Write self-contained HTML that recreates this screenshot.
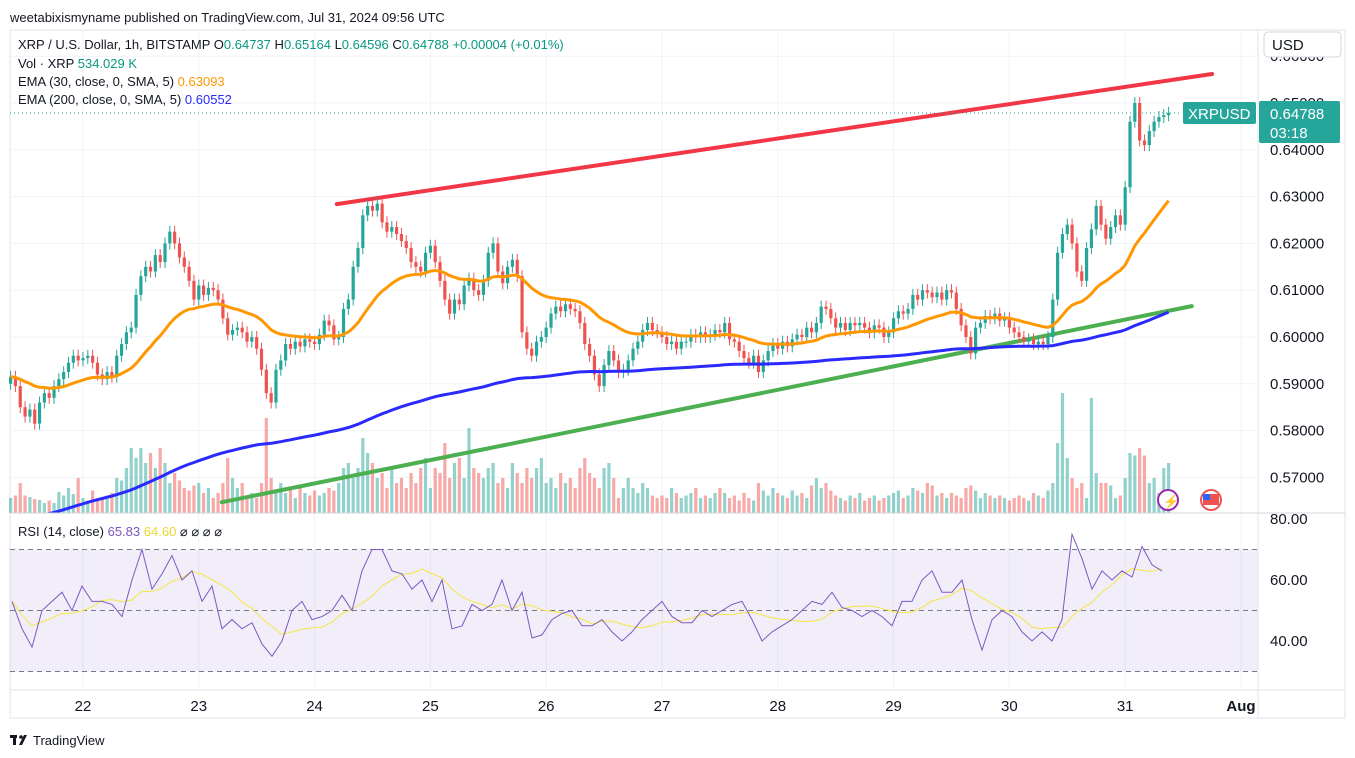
<!DOCTYPE html>
<html><head><meta charset="utf-8">
<style>
body{margin:0;background:#fff;font-family:"Liberation Sans",sans-serif;}
svg{display:block}
text{font-family:"Liberation Sans",sans-serif;}
</style></head>
<body>
<svg id="chart" width="1355" height="758">
<defs>
<clipPath id="mainclip"><rect x="10" y="30" width="1248" height="483"/></clipPath>
<clipPath id="rsiclip"><rect x="10" y="513" width="1248" height="177"/></clipPath>
</defs>
<text x="10" y="22" font-size="13" fill="#131722">weetabixismyname published on TradingView.com, Jul 31, 2024 09:56 UTC</text>
<rect x="10" y="30" width="1335" height="688" fill="none" stroke="#e0e3eb"/>
<g id="grid"></g>
<g id="rsipane" clip-path="url(#rsiclip)"></g>
<g id="vol"></g>
<g id="lines"></g>
<g id="candles"></g>
<g id="emas" clip-path="url(#mainclip)"></g>
<g id="axes"></g>
<line x1="10" y1="513" x2="1345" y2="513" stroke="#d1d4dc"/>
<line x1="1258" y1="30" x2="1258" y2="718" stroke="#e0e3eb"/>
<line x1="10" y1="690" x2="1345" y2="690" stroke="#e0e3eb"/>
<g font-size="13">
<text x="18" y="49" fill="#131722">XRP / U.S. Dollar, 1h, BITSTAMP <tspan fill="#131722">O</tspan><tspan fill="#089981">0.64737</tspan> <tspan fill="#131722">H</tspan><tspan fill="#089981">0.65164</tspan> <tspan fill="#131722">L</tspan><tspan fill="#089981">0.64596</tspan> <tspan fill="#131722">C</tspan><tspan fill="#089981">0.64788</tspan> <tspan fill="#089981">+0.00004 (+0.01%)</tspan></text>
<text x="18" y="68" fill="#131722">Vol · XRP <tspan fill="#089981">534.029 K</tspan></text>
<text x="18" y="86" fill="#131722">EMA (30, close, 0, SMA, 5) <tspan fill="#ff9800">0.63093</tspan></text>
<text x="18" y="104" fill="#131722">EMA (200, close, 0, SMA, 5) <tspan fill="#2a2aff">0.60552</tspan></text>
<text x="18" y="536" fill="#131722">RSI (14, close) <tspan fill="#7e57c2">65.83</tspan> <tspan fill="#e8d830">64.60</tspan> ⌀ ⌀ ⌀ ⌀</text>
</g>
<rect x="1264" y="32" width="77" height="25" rx="4" fill="#fff" stroke="#d1d4dc"/>
<text x="1272" y="50" font-size="15" fill="#131722">USD</text>
<line x1="10" y1="113" x2="1182" y2="113" stroke="#26a69a" stroke-dasharray="1,3"/>
<rect x="1183" y="102" width="73" height="22" rx="2" fill="#26a69a"/>
<text x="1188" y="119" font-size="15" fill="#fff">XRPUSD</text>
<rect x="1259" y="101" width="81" height="42" rx="2" fill="#26a69a"/>
<text x="1270" y="119" font-size="15" fill="#fff">0.64788</text>
<text x="1270" y="138" font-size="15" fill="#fff">03:18</text>
<circle cx="1168" cy="500" r="10" fill="#fff" stroke="#9c27b0" stroke-width="2"/>
<text x="1163" y="506" font-size="13" fill="#9c27b0">⚡</text>
<circle cx="1211" cy="500" r="10" fill="#fff" stroke="#ef5350" stroke-width="2"/>
<rect x="1203" y="494" width="16" height="11" fill="#ef5350"/>
<rect x="1203" y="494" width="7" height="6" fill="#2962ff"/>
<g>
<rect x="10" y="735" width="7" height="3" fill="#131722"/><rect x="13" y="735" width="3" height="10" fill="#131722"/>
<circle cx="21" cy="737" r="1.8" fill="#131722"/><path d="M19 745 L24 735 L27 735 L22 745 Z" fill="#131722"/>
<text x="33" y="745" font-size="13" fill="#131722">TradingView</text>
</g>
</svg>
<script>
const closes=[0.5915,0.5895,0.5850,0.5830,0.5845,0.5815,0.5860,0.5880,0.5870,0.5895,0.5910,0.5925,0.5945,0.5960,0.5950,
0.5955,0.5960,0.5945,0.5920,0.5910,0.5925,0.5915,0.5960,0.5985,0.6010,0.6020,0.6090,0.6130,0.6150,0.6140,0.6175,0.6160,0.6200,0.6225,0.6200,0.6170,0.6150,0.6120,0.6080,
0.6110,0.6090,0.6105,0.6100,0.6080,0.6040,0.6005,0.6015,0.6020,0.6010,0.5990,0.6000,0.5975,0.5930,0.5880,0.5860,0.5930,0.5950,0.5985,0.5975,0.5990,0.5980,0.5995,0.5990,
0.5985,0.6005,0.6035,0.6025,0.5995,0.6000,0.6060,0.6080,0.6150,0.6190,0.6260,0.6280,0.6270,0.6285,0.6245,0.6225,0.6235,0.6220,0.6205,0.6190,0.6160,0.6150,0.6140,0.6180,
0.6195,0.6160,0.6120,0.6080,0.6050,0.6080,0.6070,0.6110,0.6125,0.6100,0.6090,0.6120,0.6180,0.6200,0.6140,0.6115,0.6150,0.6165,0.6130,0.6010,0.5975,0.5960,0.5990,0.6000,
0.6020,0.6050,0.6065,0.6055,0.6070,0.6060,0.6055,0.6030,0.5985,0.5960,0.5920,0.5895,0.5940,0.5970,0.5950,0.5925,0.5930,0.5950,0.5975,0.5990,0.6015,0.6030,0.6015,0.6010,
0.6000,0.5985,0.5990,0.5975,0.5990,0.5990,0.6005,0.6000,0.6010,0.6000,0.6005,0.6015,0.6010,0.6030,0.5995,0.5990,0.5970,0.5955,0.5945,0.5960,0.5925,0.5950,0.5970,0.5985,
0.5975,0.5990,0.5980,0.5995,0.6005,0.6000,0.6020,0.6010,0.6030,0.6065,0.6060,0.6040,0.6020,0.6030,0.6015,0.6030,0.6025,0.6030,0.6020,0.6010,0.6025,0.6020,0.6000,0.6010,
0.6040,0.6055,0.6050,0.6060,0.6090,0.6080,0.6100,0.6095,0.6085,0.6095,0.6080,0.6100,0.6095,0.6060,0.6025,0.6000,0.5965,0.6020,0.6030,0.6045,0.6040,0.6050,0.6035,0.6040,
0.6020,0.6010,0.6000,0.5990,0.5995,0.5985,0.5990,0.5985,0.6000,0.6080,0.6180,0.6220,0.6240,0.6200,0.6140,0.6120,0.6190,0.6230,0.6280,0.6240,0.6210,0.6235,0.6260,0.6240,
0.6320,0.6460,0.6500,0.6420,0.6410,0.6440,0.6460,0.6470,0.6474,0.6479];
const volumes=[300,350,600,350,320,280,260,200,250,200,420,350,500,380,700,
300,250,450,300,280,350,400,700,650,900,1300,1100,1300,1000,1200,900,1300,1000,600,800,650,500,450,550,
600,400,500,300,400,600,1100,700,500,600,350,400,300,600,1900,700,450,600,400,500,300,500,400,350,
450,350,400,500,450,600,900,1000,700,900,1500,1200,1000,700,800,500,900,600,700,500,800,600,900,1100,
500,900,800,1400,700,1000,1100,700,1700,900,800,700,900,1000,600,700,500,1000,800,600,900,700,900,1100,
600,700,500,800,600,700,500,900,1100,800,700,500,900,1000,700,300,500,700,500,400,600,500,350,300,
350,300,500,400,300,350,400,500,300,350,300,400,500,400,300,350,250,400,300,250,600,450,350,500,
400,350,300,450,350,400,300,550,700,500,600,450,350,300,250,350,300,400,250,300,350,250,300,350,
400,450,300,350,500,450,400,600,550,350,400,300,400,350,300,500,550,450,300,400,350,300,350,300,
250,300,350,300,250,400,350,300,450,600,1400,2400,1100,700,500,600,300,2300,800,600,600,550,300,350,
700,1200,1150,1300,1150,600,700,400,900,1000];
// RSI values, one sample per ~2.07 candles (10px)
const rsiValues=[53,44,38,50,53,56,50,58,53,53,52,48,60,70,57,62,68,60,63,53,58,44,47,44,46,39,35,40,50,53,47,48,50,55,50,63,70,70,63,62,57,60,53,60,44,45,52,50,52,60,50,56,41,42,47,49,50,45,45,47,43,40,43,47,50,53,48,46,46,50,48,50,52,53,47,40,43,45,47,50,53,52,56,51,50,48,50,48,45,53,53,60,63,56,56,60,47,37,47,50,48,43,40,43,40,47,75,67,57,63,60,63,61,71,65,63];
const firstOpen=0.5900;
const ema200Seed=0.5600;
const priceTicks=[0.66,0.65,0.64,0.63,0.62,0.61,0.60,0.59,0.58,0.57];
const rsiTicks=[80,60,40];
const dayLabels=["22","23","24","25","26","27","28","29","30","31","Aug"];
const redLine=[[67.6,0.6284],[249,0.6562]];
const greenLine=[[43.8,0.5647],[244.8,0.6066]];

const NS="http://www.w3.org/2000/svg";
const X=i=>10.6+4.825*i;
const Y=p=>337-(p-0.60)*4680;
const RY=r=>580-(r-60)*3.05;
const VY=v=>513-v*0.05;
function mk(parent,tag,attrs){const e=document.createElementNS(NS,tag);for(const k in attrs)e.setAttribute(k,attrs[k]);document.getElementById(parent).appendChild(e);return e;}

dayLabels.forEach((d,k)=>{const x=X(15+24*k);
 const g=mk('grid','line',{x1:x,y1:30,x2:x,y2:690,stroke:'#f0f3fa'});
 
 
 const t=mk('axes','text',{x:x,y:711,'font-size':15,'text-anchor':'middle',fill:'#131722','font-weight':d==='Aug'?'bold':'normal'});
 t.textContent=d;
 
 
});
priceTicks.forEach(p=>{const y=Y(p);
 if(y>40){const g=mk('grid','line',{x1:10,y1:y,x2:1258,y2:y,stroke:'#f0f3fa'});
 
 }
 const t=mk('axes','text',{x:1270,y:y+5,'font-size':15,fill:'#131722'});
 t.textContent=p.toFixed(5);
 
 
});
{const b=mk('rsipane','rect',{x:10,y:RY(70),width:1248,height:RY(30)-RY(70),fill:'rgba(126,87,194,0.1)'});


[70,50,30].forEach(l=>{const d=mk('rsipane','line',{x1:10,x2:1258,y1:RY(l),y2:RY(l),stroke:'#787b86','stroke-dasharray':'5,4'});
 
 });
rsiTicks.forEach(r=>{const t=mk('axes','text',{x:1270,y:RY(r)+5,'font-size':15,fill:'#131722'});
 t.textContent=r.toFixed(2);
 
 });}

closes.forEach((c,i)=>{const o=i?closes[i-1]:firstOpen;const up=c>=o;const col=up?'#26a69a':'#ef5350';const x=X(i);
 const v=mk('vol','rect',{x:x-1.6,y:VY(volumes[i]),width:3.2,height:513-VY(volumes[i]),fill:up?'rgba(38,166,154,0.5)':'rgba(239,83,80,0.5)'});
 
 
 const hi=Math.max(o,c),lo=Math.min(o,c);
 const w=mk('candles','line',{x1:x,x2:x,y1:Y(hi)-6,y2:Y(lo)+6,stroke:col,'stroke-width':1});
 
 
 const b=mk('candles','rect',{x:x-1.6,y:Y(hi),width:3.2,height:Math.max(1,Y(lo)-Y(hi)),fill:col});
 
 
});
[[redLine,'#f23645','resistance-line'],[greenLine,'#4caf50','support-line']].forEach(([L,c,n])=>{
 const l=mk('lines','line',{x1:X(L[0][0]),y1:Y(L[0][1]),x2:X(L[1][0]),y2:Y(L[1][1]),stroke:c,'stroke-width':4,'stroke-linecap':'round'});
 
 });
function ema(n,seed){const a=2/(n+1);let e=seed;return closes.map(c=>e=e+a*(c-e));}
const e30=ema(30,closes[0]),e200=ema(200,ema200Seed);
function path(arr,xf,yf){return arr.map((v,i)=>(i?'L':'M')+xf(i).toFixed(1)+','+yf(v).toFixed(1)).join('');}
{const p1=mk('emas','path',{d:path(e30,X,Y),fill:'none',stroke:'#ff9800','stroke-width':3});


const p2=mk('emas','path',{d:path(e200,X,Y),fill:'none',stroke:'#2a2aff','stroke-width':3});

}
const RX=k=>X(k*10/4.825+0.3);
const rsiMa=rsiValues.map((v,i)=>{const s=rsiValues.slice(Math.max(0,i-6),i+1);return s.reduce((a,b)=>a+b,0)/s.length;});
{const r1=mk('rsipane','path',{d:path(rsiMa,RX,RY),fill:'none',stroke:'#f5e642','stroke-width':1});


const r2=mk('rsipane','path',{d:path(rsiValues,RX,RY),fill:'none',stroke:'#7e57c2','stroke-width':1});

}
</script>
</body></html>
